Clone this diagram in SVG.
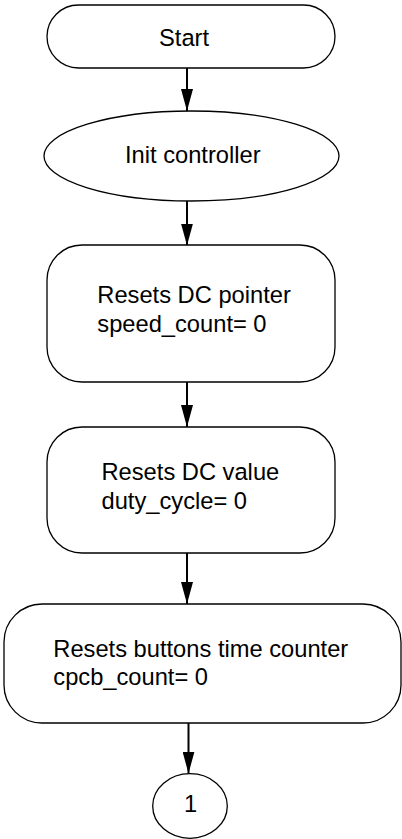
<svg xmlns="http://www.w3.org/2000/svg" width="402" height="839" viewBox="0 0 402 839">
  <style>
    .shape { fill: #ffffff; stroke: #000000; stroke-width: 1.3; }
    .label { font-family: "Liberation Sans", Arial, Helvetica, sans-serif; font-size: 23.7px; fill: #000000; }
    .flow { stroke: #000000; stroke-width: 2; fill: none; marker-end: url(#arrow); }
  </style>
  <defs>
    <marker id="arrow" viewBox="0 0 22 12" refX="22" refY="6" markerWidth="22" markerHeight="12" markerUnits="userSpaceOnUse" orient="auto">
      <path d="M0,0 L22,6 L0,12 Z" fill="#000000"/>
    </marker>
  </defs>

  <rect width="402" height="839" fill="#ffffff"/>

  <!-- connectors -->
  <g id="connectors">
    <line class="flow" x1="187" y1="68" x2="187" y2="111"/>
    <line class="flow" x1="187" y1="201" x2="187" y2="245.5"/>
    <line class="flow" x1="187" y1="382" x2="187" y2="427"/>
    <line class="flow" x1="187" y1="553" x2="187" y2="604"/>
    <line class="flow" x1="188.5" y1="723" x2="188.5" y2="773.5"/>
  </g>

  <!-- start terminator -->
  <g id="start">
    <rect class="shape" x="47" y="5" width="288" height="63" rx="31.5" ry="31.5"/>
    <text class="label" x="159" y="45.5">Start</text>
  </g>

  <!-- controller initialisation -->
  <g id="init-controller">
    <ellipse class="shape" cx="191.5" cy="156" rx="147.5" ry="45"/>
    <text class="label" x="125" y="163.3">Init controller</text>
  </g>

  <!-- reset duty-cycle pointer -->
  <g id="reset-dc-pointer">
    <rect class="shape" x="47" y="245" width="288" height="137" rx="35" ry="35"/>
    <text class="label" x="97.3" y="303.3">Resets DC pointer</text>
    <text class="label" x="97.3" y="332">speed_count= 0</text>
  </g>

  <!-- reset duty-cycle value -->
  <g id="reset-dc-value">
    <rect class="shape" x="47" y="427" width="288" height="126" rx="35" ry="35"/>
    <text class="label" x="101.5" y="480">Resets DC value</text>
    <text class="label" x="101.5" y="509">duty_cycle= 0</text>
  </g>

  <!-- reset button timer -->
  <g id="reset-button-counter">
    <rect class="shape" x="4" y="604" width="397" height="119" rx="38" ry="38"/>
    <text class="label" x="53.3" y="656.7">Resets buttons time counter</text>
    <text class="label" x="53.3" y="685">cpcb_count= 0</text>
  </g>

  <!-- off-page connector -->
  <g id="connector-1">
    <ellipse class="shape" cx="190" cy="806" rx="37.3" ry="32.3"/>
    <text class="label" x="190.7" y="811.7" text-anchor="middle">1</text>
  </g>
</svg>
